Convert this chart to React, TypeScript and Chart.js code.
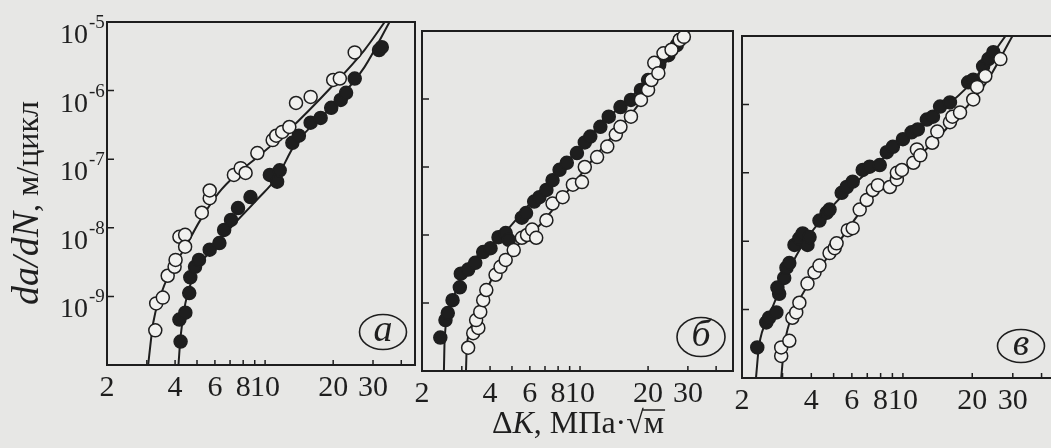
import React, { useEffect, useRef } from 'react';
import { Chart, registerables } from 'chart.js';

Chart.register(...registerables);

const PAGE_W = 1051;
const PAGE_H = 448;
const PAPER = '#e7e7e5';
const INK = '#1e1e1e';
const HOLLOW = '#f1f1ef';
const SERIF = '"Liberation Serif", "DejaVu Serif", "Times New Roman", serif';

// ---- axis ticks / labels ----
const X_TICK_LABELS = [2, 4, 6, 8, 10, 20, 30];
const X_MINOR_TICKS = [3, 4, 5, 6, 7, 8, 9, 10, 20, 30, 40];
const Y_TICK_EXPONENTS = [-5, -6, -7, -8, -9];
const Y_MIN = 1e-10;
const Y_MAX = 1e-5;
const PANEL_LETTERS = ['а', 'б', 'в'];
const Y_TITLE_VAR = 'da/dN';
const Y_TITLE_UNIT = ', м/цикл';
const X_TITLE_DELTA = 'Δ';
const X_TITLE_VAR = 'K';
const X_TITLE_UNIT = ', МПа·';
const X_TITLE_ROOT = '√';
const X_TITLE_RADICAND = 'м';

// ---- panel а ----
const A_OPEN_K = [3.27, 3.30, 3.53, 3.71, 3.98, 4.02, 4.18, 4.43, 4.43, 5.25, 5.69, 5.69, 7.28, 7.80, 8.20, 9.24, 10.8, 11.2, 11.9, 12.8, 13.7, 15.9, 20.0, 21.4, 24.9];
const A_OPEN_RATE = [3.2e-10, 7.9e-10, 9.6e-10, 2.0e-9, 2.7e-9, 3.4e-9, 7.4e-9, 7.9e-9, 5.3e-9, 1.66e-8, 2.7e-8, 3.5e-8, 5.9e-8, 7.4e-8, 6.3e-8, 1.23e-7, 1.9e-7, 2.2e-7, 2.5e-7, 2.95e-7, 6.6e-7, 8.1e-7, 1.43e-6, 1.5e-6, 3.6e-6];
const A_FILLED_K = [4.23, 4.18, 4.44, 4.62, 4.67, 4.90, 5.10, 5.69, 6.28, 6.59, 7.07, 7.59, 8.62, 10.5, 11.3, 11.6, 13.2, 14.1, 15.9, 17.6, 19.6, 21.6, 22.8, 24.9, 31.9, 32.8];
const A_FILLED_RATE = [2.2e-10, 4.6e-10, 5.8e-10, 1.12e-9, 1.9e-9, 2.7e-9, 3.4e-9, 4.8e-9, 6.0e-9, 9.3e-9, 1.3e-8, 1.94e-8, 2.8e-8, 5.9e-8, 4.7e-8, 6.9e-8, 1.73e-7, 2.2e-7, 3.4e-7, 4.0e-7, 5.6e-7, 7.3e-7, 9.3e-7, 1.5e-6, 3.9e-6, 4.3e-6];
const A_OPEN_FIT_K = [3.04, 3.20, 3.43, 3.79, 4.44, 5.10, 6.22, 7.59, 9.24, 12.8, 19.6, 27.5, 33.8];
const A_OPEN_FIT_RATE = [1e-10, 4.1e-10, 9.8e-10, 2.2e-9, 5.2e-9, 1.2e-8, 3.2e-8, 6.3e-8, 1.07e-7, 2.7e-7, 1.12e-6, 3.9e-6, 1e-5];
const A_FILLED_FIT_K = [4.14, 4.23, 4.44, 4.90, 5.80, 7.07, 9.24, 11.3, 13.5, 19.6, 27.5, 35.5];
const A_FILLED_FIT_RATE = [1e-10, 2.6e-10, 7.9e-10, 2.2e-9, 4.8e-9, 1.02e-8, 2.6e-8, 5.5e-8, 1.6e-7, 5.7e-7, 2.2e-6, 1e-5];

// ---- panel б ----
const B_OPEN_K = [3.20, 3.37, 3.55, 3.47, 3.62, 3.73, 3.85, 4.23, 4.45, 4.69, 5.09, 5.53, 5.83, 6.14, 6.40, 7.10, 7.56, 8.38, 9.30, 10.2, 10.5, 11.9, 13.2, 14.4, 15.1, 16.8, 18.6, 20.0, 20.7, 21.3, 22.2, 23.4, 25.4, 27.6, 28.8];
const B_OPEN_RATE = [2.2e-10, 3.6e-10, 4.3e-10, 5.6e-10, 7.4e-10, 1.1e-9, 1.55e-9, 2.6e-9, 3.4e-9, 4.3e-9, 6.0e-9, 9.1e-9, 1.0e-8, 1.2e-8, 9.1e-9, 1.65e-8, 2.9e-8, 3.6e-8, 5.5e-8, 6.0e-8, 1.0e-7, 1.4e-7, 2.0e-7, 3.0e-7, 3.9e-7, 5.5e-7, 9.7e-7, 1.36e-6, 1.9e-6, 3.4e-6, 2.4e-6, 4.7e-6, 5.3e-6, 7.4e-6, 8.2e-6];
const B_FILLED_K = [2.41, 2.54, 2.60, 2.73, 2.94, 2.97, 3.20, 3.44, 3.73, 4.02, 4.36, 4.69, 4.84, 5.53, 5.77, 6.27, 6.61, 7.10, 7.56, 8.12, 8.74, 9.69, 10.5, 11.1, 12.3, 13.4, 15.1, 16.8, 18.6, 20.0, 22.4, 24.6, 26.8, 27.6];
const B_FILLED_RATE = [3.1e-10, 5.6e-10, 7.1e-10, 1.1e-9, 1.7e-9, 2.7e-9, 3.1e-9, 3.9e-9, 5.6e-9, 6.4e-9, 9.3e-9, 1.07e-8, 8.5e-9, 1.8e-8, 2.1e-8, 3.1e-8, 3.6e-8, 4.6e-8, 6.4e-8, 9.1e-8, 1.15e-7, 1.6e-7, 2.3e-7, 2.8e-7, 3.9e-7, 5.5e-7, 7.6e-7, 9.7e-7, 1.36e-6, 1.9e-6, 3.2e-6, 4.4e-6, 6.2e-6, 7.4e-6];
const B_OPEN_FIT_K = [3.13, 3.16, 3.5, 4.0, 5.0, 6.5, 8.5, 12.0, 18.0, 24.0, 30.5];
const B_OPEN_FIT_RATE = [1e-10, 2.5e-10, 5.5e-10, 2.0e-9, 5.8e-9, 1.3e-8, 3.8e-8, 1.6e-7, 8e-7, 3.5e-6, 1e-5];
const B_FILLED_FIT_K = [2.50, 2.52, 2.70, 3.1, 3.7, 4.6, 6.0, 8.0, 12.0, 20.0, 29.5];
const B_FILLED_FIT_RATE = [1e-10, 3e-10, 1.0e-9, 3.3e-9, 5.5e-9, 1.05e-8, 2.9e-8, 8.5e-8, 3.8e-7, 1.9e-6, 1e-5];

// ---- panel в ----
const C_OPEN_K = [2.96, 2.96, 3.21, 3.31, 3.44, 3.55, 3.85, 4.13, 4.34, 4.80, 5.05, 5.15, 5.76, 6.05, 6.49, 6.96, 7.40, 7.78, 8.77, 9.41, 9.41, 9.90, 11.1, 11.5, 11.9, 13.4, 14.1, 16.0, 16.4, 17.7, 20.2, 21.0, 22.8, 26.5];
const C_OPEN_RATE = [2.1e-10, 2.8e-10, 3.5e-10, 7.6e-10, 9.1e-10, 1.26e-9, 2.4e-9, 3.5e-9, 4.4e-9, 6.7e-9, 7.9e-9, 9.3e-9, 1.45e-8, 1.55e-8, 2.9e-8, 4.0e-8, 5.6e-8, 6.6e-8, 6.2e-8, 8.0e-8, 1.0e-7, 1.1e-7, 1.4e-7, 2.2e-7, 1.8e-7, 2.75e-7, 4.0e-7, 5.5e-7, 6.6e-7, 7.6e-7, 1.18e-6, 1.8e-6, 2.6e-6, 4.6e-6];
const C_FILLED_K = [2.33, 2.55, 2.62, 2.82, 2.90, 2.85, 3.05, 3.12, 3.21, 3.38, 3.55, 3.67, 3.85, 3.93, 4.34, 4.66, 4.80, 5.42, 5.70, 6.05, 6.69, 7.17, 7.93, 8.51, 9.04, 10.0, 10.9, 11.6, 12.7, 13.5, 14.5, 16.0, 19.2, 20.2, 22.3, 23.5, 24.7];
const C_FILLED_RATE = [2.8e-10, 6.5e-10, 7.6e-10, 9.1e-10, 1.7e-9, 2.1e-9, 2.9e-9, 4.1e-9, 4.8e-9, 8.8e-9, 1.1e-8, 1.3e-8, 8.8e-9, 1.15e-8, 2.0e-8, 2.6e-8, 2.9e-8, 5.1e-8, 6.2e-8, 7.4e-8, 1.1e-7, 1.23e-7, 1.3e-7, 2.0e-7, 2.4e-7, 3.1e-7, 3.9e-7, 4.3e-7, 6.0e-7, 6.6e-7, 9.3e-7, 1.07e-6, 2.1e-6, 2.3e-6, 3.6e-6, 4.6e-6, 5.8e-6];
const C_OPEN_FIT_K = [2.96, 3.05, 3.38, 4.13, 5.30, 7.17, 10.7, 16.0, 22.8, 29.9];
const C_OPEN_FIT_RATE = [1e-10, 2.9e-10, 9.7e-10, 3.1e-9, 1.0e-8, 4e-8, 1.3e-7, 5e-7, 2e-6, 1e-5];
const C_FILLED_FIT_K = [2.30, 2.37, 2.62, 3.05, 3.55, 4.80, 7.17, 13.1, 19.6, 27.9];
const C_FILLED_FIT_RATE = [1e-10, 2.9e-10, 8e-10, 2.7e-9, 7.4e-9, 2.9e-8, 1.1e-7, 6e-7, 2e-6, 1e-5];

type Frame = { left: number; top: number; right: number; bottom: number };
type Badge = { cx: number; cy: number; rx: number; ry: number };
type PanelDef = {
  key: string;
  canvasWidth: number;
  frame: Frame;
  xMin: number;
  xMax: number;
  letter: string;
  badge: Badge;
  yLabels: boolean;
  yTitle: boolean;
  xTitle: boolean;
  open: [number[], number[]];
  filled: [number[], number[]];
  openFit: [number[], number[]];
  filledFit: [number[], number[]];
};

const PANELS: PanelDef[] = [
  {
    key: 'a', canvasWidth: PAGE_W,
    frame: { left: 107, top: 22, right: 415, bottom: 365 },
    xMin: 2, xMax: 46, letter: PANEL_LETTERS[0],
    badge: { cx: 383, cy: 332, rx: 23.5, ry: 17.5 },
    yLabels: true, yTitle: true, xTitle: false,
    open: [A_OPEN_K, A_OPEN_RATE], filled: [A_FILLED_K, A_FILLED_RATE],
    openFit: [A_OPEN_FIT_K, A_OPEN_FIT_RATE], filledFit: [A_FILLED_FIT_K, A_FILLED_FIT_RATE],
  },
  {
    key: 'b', canvasWidth: PAGE_W,
    frame: { left: 422, top: 31, right: 733, bottom: 371 },
    xMin: 2, xMax: 47.5, letter: PANEL_LETTERS[1],
    badge: { cx: 701, cy: 337, rx: 24, ry: 19.5 },
    yLabels: false, yTitle: false, xTitle: true,
    open: [B_OPEN_K, B_OPEN_RATE], filled: [B_FILLED_K, B_FILLED_RATE],
    openFit: [B_OPEN_FIT_K, B_OPEN_FIT_RATE], filledFit: [B_FILLED_FIT_K, B_FILLED_FIT_RATE],
  },
  {
    key: 'c', canvasWidth: 1100,
    frame: { left: 742, top: 36, right: 1060, bottom: 378 },
    xMin: 2, xMax: 48.1, letter: PANEL_LETTERS[2],
    badge: { cx: 1021, cy: 346, rx: 23.5, ry: 16.5 },
    yLabels: false, yTitle: false, xTitle: false,
    open: [C_OPEN_K, C_OPEN_RATE], filled: [C_FILLED_K, C_FILLED_RATE],
    openFit: [C_OPEN_FIT_K, C_OPEN_FIT_RATE], filledFit: [C_FILLED_FIT_K, C_FILLED_FIT_RATE],
  },
];

function pts(pair: [number[], number[]]) {
  const [xs, ys] = pair;
  return xs.map((x, i) => ({ x, y: ys[i] }));
}

const decorPlugin = {
  id: 'decor',
  afterDraw(chart: any, _args: any, opts: any) {
    const p: PanelDef = opts.panel;
    const { ctx, chartArea: a, scales } = chart;
    const xs = scales.x;
    const ys = scales.y;
    ctx.save();
    ctx.strokeStyle = INK;
    ctx.fillStyle = INK;

    // frame
    ctx.lineWidth = 2;
    ctx.strokeRect(a.left, a.top, a.right - a.left, a.bottom - a.top);

    // inner tick marks
    ctx.lineWidth = 1.5;
    ctx.beginPath();
    for (const v of X_MINOR_TICKS) {
      const px = xs.getPixelForValue(v);
      if (px > a.left + 2 && px < a.right - 2) {
        ctx.moveTo(px, a.bottom);
        ctx.lineTo(px, a.bottom - 5);
      }
    }
    for (const e of Y_TICK_EXPONENTS) {
      const py = ys.getPixelForValue(Math.pow(10, e));
      if (py > a.top + 2 && py < a.bottom - 2) {
        ctx.moveTo(a.left, py);
        ctx.lineTo(a.left + 7, py);
      }
    }
    ctx.stroke();

    // x tick labels
    ctx.font = `30px ${SERIF}`;
    ctx.textAlign = 'center';
    ctx.textBaseline = 'alphabetic';
    for (const v of X_TICK_LABELS) {
      ctx.fillText(String(v), xs.getPixelForValue(v), a.bottom + 31);
    }

    // y tick labels with superscript exponents
    if (p.yLabels) {
      for (const e of Y_TICK_EXPONENTS) {
        const py = ys.getPixelForValue(Math.pow(10, e));
        ctx.font = `28px ${SERIF}`;
        ctx.textAlign = 'right';
        ctx.fillText('10', a.left - 19, py + 21);
        ctx.font = `19px ${SERIF}`;
        ctx.textAlign = 'left';
        ctx.fillText(String(e), a.left - 18, py + 6);
      }
    }

    // y title
    if (p.yTitle) {
      ctx.save();
      ctx.translate(38, 203);
      ctx.rotate(-Math.PI / 2);
      const fI = `italic 38px ${SERIF}`;
      const fR = `32px ${SERIF}`;
      ctx.font = fI;
      const w1 = ctx.measureText(Y_TITLE_VAR).width;
      ctx.font = fR;
      const w2 = ctx.measureText(Y_TITLE_UNIT).width;
      const x0 = -(w1 + w2) / 2;
      ctx.textAlign = 'left';
      ctx.font = fI;
      ctx.fillText(Y_TITLE_VAR, x0, 0);
      ctx.font = fR;
      ctx.fillText(Y_TITLE_UNIT, x0 + w1, 0);
      ctx.restore();
    }

    // x title
    if (p.xTitle) {
      const fR = `32px ${SERIF}`;
      const fI = `italic 32px ${SERIF}`;
      const parts = [
        { t: X_TITLE_DELTA, f: fR, over: false },
        { t: X_TITLE_VAR, f: fI, over: false },
        { t: X_TITLE_UNIT, f: fR, over: false },
        { t: X_TITLE_ROOT, f: fR, over: false },
        { t: X_TITLE_RADICAND, f: fR, over: true },
      ];
      let total = 0;
      const widths = parts.map((q) => {
        ctx.font = q.f;
        const w = ctx.measureText(q.t).width;
        total += w;
        return w;
      });
      let x = 578 - total / 2;
      const base = 433;
      ctx.textAlign = 'left';
      parts.forEach((q, i) => {
        ctx.font = q.f;
        ctx.fillText(q.t, x, base);
        if (q.over) {
          ctx.lineWidth = 1.5;
          ctx.beginPath();
          ctx.moveTo(x - 1, base - 23);
          ctx.lineTo(x + widths[i] + 1, base - 23);
          ctx.stroke();
        }
        x += widths[i];
      });
    }

    // circled panel letter
    const b = p.badge;
    ctx.lineWidth = 1.6;
    ctx.beginPath();
    ctx.ellipse(b.cx, b.cy, b.rx, b.ry, 0, 0, Math.PI * 2);
    ctx.stroke();
    ctx.font = `italic 38px ${SERIF}`;
    ctx.textAlign = 'center';
    ctx.fillText(p.letter, b.cx, b.cy + 9);

    ctx.restore();
  },
};

function makeConfig(p: PanelDef): any {
  const f = p.frame;
  const pointBase = { showLine: false, pointStyle: 'circle', pointRadius: 6.5, pointBorderWidth: 1.5, pointBorderColor: INK, order: 1 };
  const lineBase = { showLine: true, pointRadius: 0, borderColor: INK, borderWidth: 2, fill: false, cubicInterpolationMode: 'monotone', order: 2 };
  return {
    type: 'scatter',
    data: {
      datasets: [
        { ...pointBase, label: 'open', data: pts(p.open), pointBackgroundColor: HOLLOW },
        { ...pointBase, label: 'filled', data: pts(p.filled), pointBackgroundColor: INK },
        { ...lineBase, label: 'open fit', data: pts(p.openFit) },
        { ...lineBase, label: 'filled fit', data: pts(p.filledFit) },
      ],
    },
    options: {
      responsive: false,
      animation: false,
      devicePixelRatio: 1,
      events: [],
      layout: { padding: { left: f.left, top: f.top, right: p.canvasWidth - f.right, bottom: PAGE_H - f.bottom } },
      plugins: { legend: { display: false }, tooltip: { enabled: false }, decor: { panel: p } },
      scales: {
        x: { type: 'logarithmic', min: p.xMin, max: p.xMax, display: false },
        y: { type: 'logarithmic', min: Y_MIN, max: Y_MAX, display: false },
      },
    },
    plugins: [decorPlugin],
  };
}

function Panel({ panel }: { panel: PanelDef }) {
  const ref = useRef<HTMLCanvasElement | null>(null);
  useEffect(() => {
    if (!ref.current) return;
    const chart = new Chart(ref.current, makeConfig(panel));
    return () => chart.destroy();
  }, [panel]);
  return (
    <canvas
      ref={ref}
      width={panel.canvasWidth}
      height={PAGE_H}
      style={{ position: 'absolute', left: 0, top: 0, width: panel.canvasWidth, height: PAGE_H }}
    />
  );
}

export default function App() {
  return (
    <div
      style={{
        position: 'fixed', left: 0, top: 0, width: PAGE_W, height: PAGE_H,
        overflow: 'hidden', background: PAPER,
      }}
    >
      {PANELS.map((p) => (
        <Panel key={p.key} panel={p} />
      ))}
    </div>
  );
}
